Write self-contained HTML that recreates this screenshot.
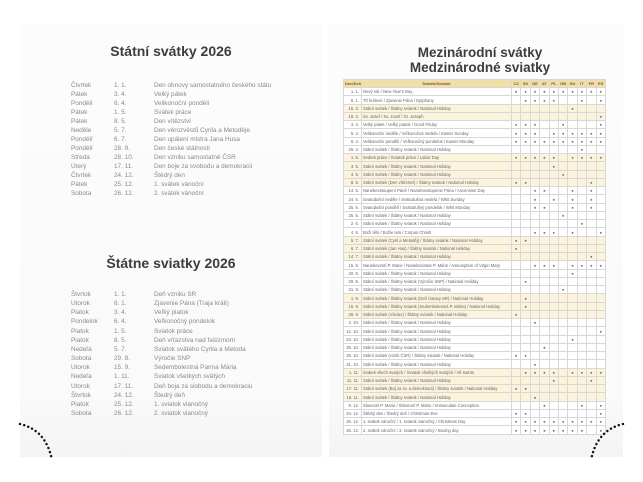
<!DOCTYPE html>
<html><head><meta charset="utf-8">
<style>
*{margin:0;padding:0;box-sizing:border-box}
body{width:643px;height:482px;background:#fff;position:relative;overflow:hidden;font-family:"Liberation Sans",sans-serif}
.page{position:absolute;top:25px;height:432px;background:linear-gradient(#fcfcfc,#fafafa 85%,#f4f4f4)}
h1{position:absolute;font-size:14px;font-weight:bold;color:#3a3d42;text-align:center;white-space:nowrap}
.list{position:absolute;font-size:6.4px;color:#8a8a8a;line-height:9px}
.list div{display:flex;white-space:nowrap}
.list span:nth-child(1){width:43px}
.list span:nth-child(2){width:40px}
table{position:absolute;left:343px;top:79px;width:262px;border-collapse:collapse;font-size:4.2px;color:#666;table-layout:fixed;background:#fff}
td,th{border:0.5px solid #d8d8d8;height:8.25px;padding:0 1px;white-space:nowrap;overflow:hidden}
td.c{color:#777}
th{background:#f2dfa8;color:#7a5a20;height:8.2px;font-size:4px}
td:first-child{text-align:right;padding-right:2px}
td.c,th.c{text-align:center;padding:0}
tr.s td{background:#fcf3dc}
</style></head><body>
<div class="page" style="left:20px;width:302px"></div>
<div class="page" style="left:329px;width:294px"></div>

<h1 style="left:20px;width:302px;top:43px">Státní svátky 2026</h1>
<div class="list" style="left:71px;top:81px">
<div><span>Čtvrtek</span><span>1. 1.</span><span>Den obnovy samostatného českého státu</span></div>
<div><span>Pátek</span><span>3. 4.</span><span>Velký pátek</span></div>
<div><span>Pondělí</span><span>6. 4.</span><span>Velikonoční pondělí</span></div>
<div><span>Pátek</span><span>1. 5.</span><span>Svátek práce</span></div>
<div><span>Pátek</span><span>8. 5.</span><span>Den vítězství</span></div>
<div><span>Neděle</span><span>5. 7.</span><span>Den věrozvěstů Cyrila a Metoděje</span></div>
<div><span>Pondělí</span><span>6. 7.</span><span>Den upálení mistra Jana Husa</span></div>
<div><span>Pondělí</span><span>28. 9.</span><span>Den české státnosti</span></div>
<div><span>Středa</span><span>28. 10.</span><span>Den vzniku samostatné ČSR</span></div>
<div><span>Úterý</span><span>17. 11.</span><span>Den boje za svobodu a demokracii</span></div>
<div><span>Čtvrtek</span><span>24. 12.</span><span>Štědrý den</span></div>
<div><span>Pátek</span><span>25. 12.</span><span>1. svátek vánoční</span></div>
<div><span>Sobota</span><span>26. 12.</span><span>2. svátek vánoční</span></div>
</div>

<h1 style="left:20px;width:302px;top:255px">Štátne sviatky 2026</h1>
<div class="list" style="left:71px;top:290px;line-height:9.15px">
<div><span>Štvrtok</span><span>1. 1.</span><span>Deň vzniku SR</span></div>
<div><span>Utorok</span><span>6. 1.</span><span>Zjavenie Pána (Traja králi)</span></div>
<div><span>Piatok</span><span>3. 4.</span><span>Veľký piatok</span></div>
<div><span>Pondelok</span><span>6. 4.</span><span>Veľkonočný pondelok</span></div>
<div><span>Piatok</span><span>1. 5.</span><span>Sviatok práce</span></div>
<div><span>Piatok</span><span>8. 5.</span><span>Deň víťazstva nad fašizmom</span></div>
<div><span>Nedeľa</span><span>5. 7.</span><span>Sviatok svätého Cyrila a Metoda</span></div>
<div><span>Sobota</span><span>29. 8.</span><span>Výročie SNP</span></div>
<div><span>Utorok</span><span>15. 9.</span><span>Sedembolestná Panna Mária</span></div>
<div><span>Nedeľa</span><span>1. 11.</span><span>Sviatok všetkých svätých</span></div>
<div><span>Utorok</span><span>17. 11.</span><span>Deň boja za slobodu a demokraciu</span></div>
<div><span>Štvrtok</span><span>24. 12.</span><span>Štedrý deň</span></div>
<div><span>Piatok</span><span>25. 12.</span><span>1. sviatok vianočný</span></div>
<div><span>Sobota</span><span>26. 12.</span><span>2. sviatok vianočný</span></div>
</div>

<h1 style="left:329px;width:302px;top:45px;font-size:13.5px;line-height:15px">Mezinárodní svátky<br>Medzinárodné sviatky</h1>

<table>
<colgroup><col style="width:18px"><col style="width:150px"><col span="10" style="width:9.4px"></colgroup>
<tr><th>Den/Deň</th><th>Svátek/Sviatok</th><th class="c">CZ</th><th class="c">SK</th><th class="c">DE</th><th class="c">AT</th><th class="c">PL</th><th class="c">GB</th><th class="c">HU</th><th class="c">IT</th><th class="c">FR</th><th class="c">ES</th></tr>
<tr><td>1. 1.</td><td>Nový rok / New Year's Day</td><td class="c">●</td><td class="c">●</td><td class="c">●</td><td class="c">●</td><td class="c">●</td><td class="c">●</td><td class="c">●</td><td class="c">●</td><td class="c">●</td><td class="c">●</td></tr>
<tr><td>6. 1.</td><td>Tři králové / Zjavenie Pána / Epiphany</td><td></td><td class="c">●</td><td class="c">●</td><td class="c">●</td><td class="c">●</td><td></td><td></td><td class="c">●</td><td></td><td class="c">●</td></tr>
<tr class="s"><td>15. 3.</td><td>Státní svátek / Štátny sviatok / National Holiday</td><td></td><td></td><td></td><td></td><td></td><td></td><td class="c">●</td><td></td><td></td><td></td></tr>
<tr class="s"><td>19. 3.</td><td>Sv. Josef / Sv. Jozef / St. Joseph</td><td></td><td></td><td></td><td></td><td></td><td></td><td></td><td></td><td></td><td class="c">●</td></tr>
<tr><td>3. 4.</td><td>Velký pátek / Veľký piatok / Good Friday</td><td class="c">●</td><td class="c">●</td><td class="c">●</td><td></td><td></td><td class="c">●</td><td></td><td></td><td></td><td class="c">●</td></tr>
<tr><td>5. 4.</td><td>Velikonoční neděle / Veľkonočná nedeľa / Easter Sunday</td><td class="c">●</td><td class="c">●</td><td class="c">●</td><td></td><td class="c">●</td><td class="c">●</td><td class="c">●</td><td class="c">●</td><td class="c">●</td><td class="c">●</td></tr>
<tr><td>6. 4.</td><td>Velikonoční pondělí / Veľkonočný pondelok / Easter Monday</td><td class="c">●</td><td class="c">●</td><td class="c">●</td><td class="c">●</td><td class="c">●</td><td class="c">●</td><td class="c">●</td><td class="c">●</td><td class="c">●</td><td class="c">●</td></tr>
<tr><td>25. 4.</td><td>Státní svátek / Štátny sviatok / National Holiday</td><td></td><td></td><td></td><td></td><td></td><td></td><td></td><td class="c">●</td><td></td><td></td></tr>
<tr class="s"><td>1. 5.</td><td>Svátek práce / Sviatok práce / Labor Day</td><td class="c">●</td><td class="c">●</td><td class="c">●</td><td class="c">●</td><td class="c">●</td><td></td><td class="c">●</td><td class="c">●</td><td class="c">●</td><td class="c">●</td></tr>
<tr class="s"><td>3. 5.</td><td>Státní svátek / Štátny sviatok / National Holiday</td><td></td><td></td><td></td><td></td><td class="c">●</td><td></td><td></td><td></td><td></td><td></td></tr>
<tr class="s"><td>4. 5.</td><td>Státní svátek / Štátny sviatok / National Holiday</td><td></td><td></td><td></td><td></td><td></td><td class="c">●</td><td></td><td></td><td></td><td></td></tr>
<tr class="s"><td>8. 5.</td><td>Státní svátek (Den vítězství) / Štátny sviatok / National Holiday</td><td class="c">●</td><td class="c">●</td><td></td><td></td><td></td><td></td><td></td><td></td><td class="c">●</td><td></td></tr>
<tr><td>14. 5.</td><td>Nanebevstoupení Páně / Nanebovstúpenie Pána / Ascension Day</td><td></td><td></td><td class="c">●</td><td class="c">●</td><td></td><td></td><td class="c">●</td><td></td><td class="c">●</td><td></td></tr>
<tr><td>24. 5.</td><td>Svatodušní neděle / Svätodušná nedeľa / Whit Sunday</td><td></td><td></td><td class="c">●</td><td></td><td class="c">●</td><td></td><td class="c">●</td><td></td><td class="c">●</td><td></td></tr>
<tr><td>25. 5.</td><td>Svatodušní pondělí / Svätodušný pondelok / Whit Monday</td><td></td><td></td><td class="c">●</td><td class="c">●</td><td></td><td></td><td class="c">●</td><td></td><td class="c">●</td><td></td></tr>
<tr><td>25. 5.</td><td>Státní svátek / Štátny sviatok / National Holiday</td><td></td><td></td><td></td><td></td><td></td><td class="c">●</td><td></td><td></td><td></td><td></td></tr>
<tr><td>2. 6.</td><td>Státní svátek / Štátny sviatok / National Holiday</td><td></td><td></td><td></td><td></td><td></td><td></td><td></td><td class="c">●</td><td></td><td></td></tr>
<tr><td>4. 6.</td><td>Boží tělo / Božie telo / Corpus Christi</td><td></td><td></td><td class="c">●</td><td class="c">●</td><td class="c">●</td><td></td><td class="c">●</td><td></td><td></td><td class="c">●</td></tr>
<tr class="s"><td>5. 7.</td><td>Státní svátek (Cyril a Metoděj) / Štátny sviatok / National Holiday</td><td class="c">●</td><td class="c">●</td><td></td><td></td><td></td><td></td><td></td><td></td><td></td><td></td></tr>
<tr class="s"><td>6. 7.</td><td>Státní svátek (Jan Hus) / Štátny sviatok / National Holiday</td><td class="c">●</td><td></td><td></td><td></td><td></td><td></td><td></td><td></td><td></td><td></td></tr>
<tr class="s"><td>14. 7.</td><td>Státní svátek / Štátny sviatok / National Holiday</td><td></td><td></td><td></td><td></td><td></td><td></td><td></td><td></td><td class="c">●</td><td></td></tr>
<tr><td>15. 8.</td><td>Nanebevzetí P. Marie / Nanebovzatie P. Márie / Assumption of Virgin Mary</td><td></td><td></td><td class="c">●</td><td class="c">●</td><td class="c">●</td><td></td><td class="c">●</td><td class="c">●</td><td class="c">●</td><td class="c">●</td></tr>
<tr><td>20. 8.</td><td>Státní svátek / Štátny sviatok / National Holiday</td><td></td><td></td><td></td><td></td><td></td><td></td><td class="c">●</td><td></td><td></td><td></td></tr>
<tr><td>29. 8.</td><td>Státní svátek / Štátny sviatok (Výročie SNP) / National Holiday</td><td></td><td class="c">●</td><td></td><td></td><td></td><td></td><td></td><td></td><td></td><td></td></tr>
<tr><td>31. 8.</td><td>Státní svátek / Štátny sviatok / National Holiday</td><td></td><td></td><td></td><td></td><td></td><td class="c">●</td><td></td><td></td><td></td><td></td></tr>
<tr class="s"><td>1. 9.</td><td>Státní svátek / Štátny sviatok (Deň Ústavy SR) / National Holiday</td><td></td><td class="c">●</td><td></td><td></td><td></td><td></td><td></td><td></td><td></td><td></td></tr>
<tr class="s"><td>15. 9.</td><td>Státní svátek / Štátny sviatok (Sedembolestná P. Mária) / National Holiday</td><td></td><td class="c">●</td><td></td><td></td><td></td><td></td><td></td><td></td><td></td><td></td></tr>
<tr class="s"><td>28. 9.</td><td>Státní svátek (Václav) / Štátny sviatok / National Holiday</td><td class="c">●</td><td></td><td></td><td></td><td></td><td></td><td></td><td></td><td></td><td></td></tr>
<tr><td>3. 10.</td><td>Státní svátek / Štátny sviatok / National Holiday</td><td></td><td></td><td class="c">●</td><td></td><td></td><td></td><td></td><td></td><td></td><td></td></tr>
<tr><td>12. 10.</td><td>Státní svátek / Štátny sviatok / National Holiday</td><td></td><td></td><td></td><td></td><td></td><td></td><td></td><td></td><td></td><td class="c">●</td></tr>
<tr><td>23. 10.</td><td>Státní svátek / Štátny sviatok / National Holiday</td><td></td><td></td><td></td><td></td><td></td><td></td><td class="c">●</td><td></td><td></td><td></td></tr>
<tr><td>26. 10.</td><td>Státní svátek / Štátny sviatok / National Holiday</td><td></td><td></td><td></td><td class="c">●</td><td></td><td></td><td></td><td></td><td></td><td></td></tr>
<tr><td>28. 10.</td><td>Státní svátek (vznik ČSR) / Štátny sviatok / National Holiday</td><td class="c">●</td><td class="c">●</td><td></td><td></td><td></td><td></td><td></td><td></td><td></td><td></td></tr>
<tr><td>31. 10.</td><td>Státní svátek / Štátny sviatok / National Holiday</td><td></td><td></td><td class="c">●</td><td></td><td></td><td></td><td></td><td></td><td></td><td></td></tr>
<tr class="s"><td>1. 11.</td><td>Svátek všech svatých / Sviatok všetkých svätých / All Saints</td><td></td><td class="c">●</td><td class="c">●</td><td class="c">●</td><td class="c">●</td><td></td><td class="c">●</td><td class="c">●</td><td class="c">●</td><td class="c">●</td></tr>
<tr class="s"><td>11. 11.</td><td>Státní svátek / Štátny sviatok / National Holiday</td><td></td><td></td><td></td><td></td><td class="c">●</td><td></td><td></td><td></td><td class="c">●</td><td></td></tr>
<tr class="s"><td>17. 11.</td><td>Státní svátek (Boj za sv. a demokracii) / Štátny sviatok / National Holiday</td><td class="c">●</td><td class="c">●</td><td></td><td></td><td></td><td></td><td></td><td></td><td></td><td></td></tr>
<tr class="s"><td>18. 11.</td><td>Státní svátek / Štátny sviatok / National Holiday</td><td></td><td></td><td class="c">●</td><td></td><td></td><td></td><td></td><td></td><td></td><td></td></tr>
<tr><td>8. 12.</td><td>Slavnost P. Marie / Slávnosť P. Márie / Immaculate Conception</td><td></td><td></td><td></td><td class="c">●</td><td></td><td></td><td></td><td class="c">●</td><td></td><td class="c">●</td></tr>
<tr><td>24. 12.</td><td>Štědrý den / Štedrý deň / Christmas Eve</td><td class="c">●</td><td class="c">●</td><td></td><td></td><td></td><td></td><td></td><td></td><td></td><td class="c">●</td></tr>
<tr><td>25. 12.</td><td>1. svátek vánoční / 1. sviatok vianočný / Christmas Day</td><td class="c">●</td><td class="c">●</td><td class="c">●</td><td class="c">●</td><td class="c">●</td><td class="c">●</td><td class="c">●</td><td class="c">●</td><td class="c">●</td><td class="c">●</td></tr>
<tr><td>26. 12.</td><td>2. svátek vánoční / 2. sviatok vianočný / Boxing day</td><td class="c">●</td><td class="c">●</td><td class="c">●</td><td class="c">●</td><td class="c">●</td><td class="c">●</td><td class="c">●</td><td class="c">●</td><td></td><td class="c">●</td></tr>
</table>

<svg style="position:absolute;left:0;top:0" width="643" height="482">
<path d="M20 424 Q46 430 52 460" fill="none" stroke="#111" stroke-width="2.4" stroke-dasharray="0.1 4.2" stroke-linecap="round"/>
<path d="M623 424 Q597 430 591 460" fill="none" stroke="#111" stroke-width="2.4" stroke-dasharray="0.1 4.2" stroke-linecap="round"/>
</svg>
</body></html>
